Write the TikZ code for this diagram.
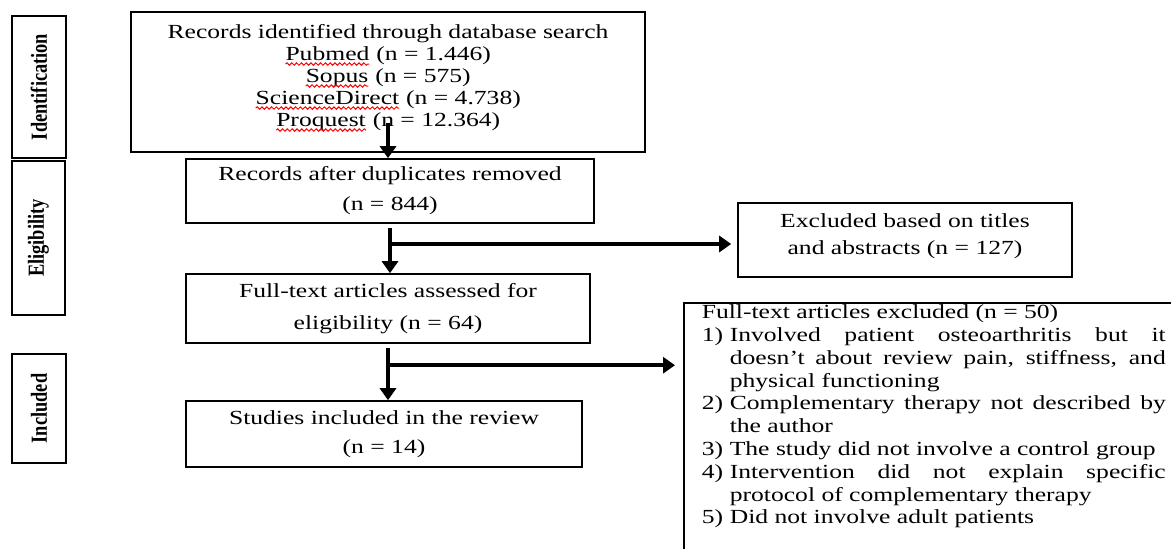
\documentclass[tikz,border=0pt]{standalone}
\usepackage{fontspec}
\setmainfont{Liberation Serif}[FakeStretch=1.28]
\newfontfamily\stagefont{Liberation Serif}[FakeStretch=0.8]
\usepackage{xcolor}
\usetikzlibrary{arrows.meta,calc,decorations.pathmorphing}

% red spell-check wave under a word
\newcommand\redwave[1]{\tikz[baseline=(w.base)]{%
  \node[inner sep=0pt, outer sep=0pt, minimum width=0pt, minimum height=0pt, draw=none, rotate=0] (w) {#1};
  \draw[red, line width=0.5pt, decorate, decoration={snake, amplitude=0.6pt, segment length=2.4pt}]
    ([yshift=-2pt]w.base west) -- ([yshift=-2pt]w.base east);}}
\newcommand\hangitem[1]{\hangindent=14pt\hangafter=1\noindent\makebox[14pt][l]{#1}}

\tikzset{
  stagebox/.style={draw, line width=1.1pt, rotate=90, inner sep=0pt,
    font=\stagefont\bfseries\fontsize{11.5}{12}\selectfont},
  flowbox/.style={draw, line width=0.8pt, align=center, inner sep=2pt},
  flowline/.style={line width=2pt, -{Triangle[length=6pt,width=8pt]}},
}

\begin{document}
\begin{tikzpicture}[x=0.5pt, y=-0.5pt, font=\fontsize{10}{11}\selectfont]
  \useasboundingbox (0,0) rectangle (1171,549);
  \clip (0,0) rectangle (1171,549);

  % stage labels on the left
  \node[stagebox, minimum width=71pt, minimum height=27pt] (ident) at (39,87) {Identification};
  \node[stagebox, minimum width=77pt, minimum height=26.5pt] (elig) at (38.5,238) {Eligibility};
  \node[stagebox, minimum width=54.5pt, minimum height=27pt] (incl) at (39,408.5) {Included};

  % main column
  \node[flowbox, minimum width=257pt, minimum height=70pt, text depth=7pt] (recs) at (388,82)
    {Records identified through database search\\
     \redwave{Pubmed} (n = 1.446)\\
     \redwave{Sopus} (n = 575)\\
     \redwave{ScienceDirect} (n = 4.738)\\
     \redwave{Proquest} (n = 12.364)};
  \node[flowbox, minimum width=204pt, minimum height=32pt, font=\fontsize{10}{15}\selectfont] (dup) at (390,191)
    {Records after duplicates removed\\ (n = 844)};
  \node[flowbox, minimum width=202pt, minimum height=34.5pt, font=\fontsize{10}{16}\selectfont] (full) at (388,308.5)
    {Full-text articles assessed for\\ eligibility (n = 64)};
  \node[flowbox, minimum width=198pt, minimum height=33pt, font=\fontsize{10}{14.5}\selectfont] (studies) at (384,434)
    {Studies included in the review\\ (n = 14)};

  % exclusions
  \node[flowbox, minimum width=167pt, minimum height=37pt, text depth=6pt, font=\fontsize{10}{13.5}\selectfont] (titles) at (905,240)
    {Excluded based on titles\\ and abstracts (n = 127)};
  \node[draw, line width=0.8pt, anchor=north west, text width=232pt, align=justify, inner xsep=9pt, inner ysep=1pt,
        text depth=125pt, font=\fontsize{10}{11.4}\selectfont] (reasons) at (683,302)
    {\tolerance=10000
     Full-text articles excluded (n = 50)\par
     \hangitem{1)}Involved patient osteoarthritis but it\linebreak doesn’t about review pain, stiffness, and\linebreak physical functioning\par
     \hangitem{2)}Complementary therapy not described by\linebreak the author\par
     \hangitem{3)}The study did not involve a control group\par
     \hangitem{4)}Intervention did not explain specific\linebreak protocol of complementary therapy\par
     \hangitem{5)}Did not involve adult patients\par};

  % arrows
  \coordinate (b1) at ($(dup.south |- titles.west)+(0,4)$);
  \coordinate (b2) at ($(full.south)!0.38!(studies.north)$);
  \draw[flowline] ([yshift=15pt]recs.south) -- (recs.south |- dup.north);
  \draw[flowline] ([yshift=-2pt]dup.south) -- (dup.south |- full.north);
  \draw[flowline] ([yshift=-2pt]full.south) -- (full.south |- studies.north);
  \draw[flowline, shorten >=3pt] (b1) -- (b1 -| titles.west);
  \draw[flowline, shorten >=4pt] (b2) -- (b2 -| reasons.west);
\end{tikzpicture}
\end{document}
